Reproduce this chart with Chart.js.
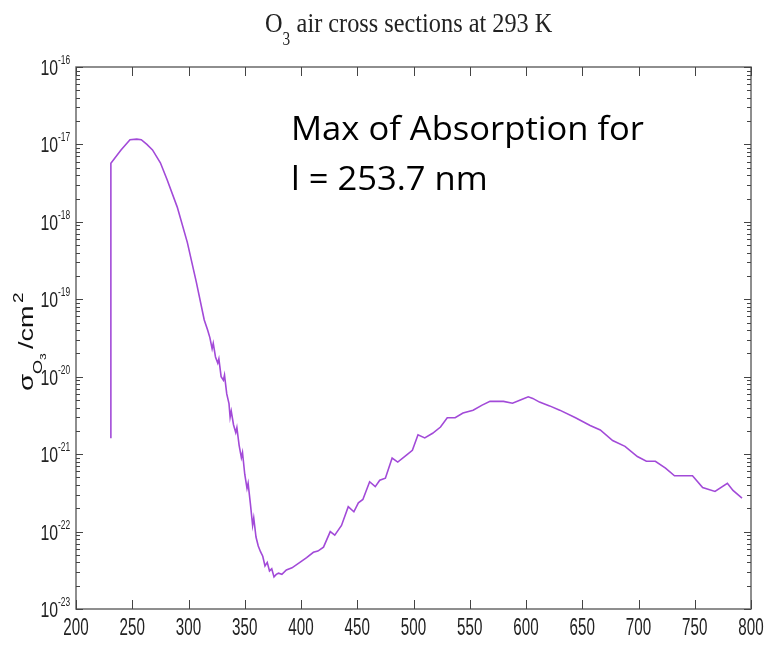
<!DOCTYPE html>
<html>
<head>
<meta charset="utf-8">
<title>O3 air cross sections at 293 K</title>
<script src="https://cdn.jsdelivr.net/npm/chart.js@4.4.1/dist/chart.umd.min.js"></script>
<style>
  html, body { margin: 0; padding: 0; background: #fff; }
  #wrap { width: 777px; height: 654px; }
</style>
</head>
<body>
<div id="wrap"><canvas id="o3Chart" width="777" height="654"></canvas></div>
<script>
// O3 absorption cross section (cm^2) vs wavelength (nm)
const wavelengths = [
  231, 231, 240, 248, 254, 258, 263, 268, 275, 281, 290, 299, 307, 314,
  317, 319, 321, 322, 324, 326, 327, 329, 331, 332, 334, 336, 337, 338, 340, 342,
  343, 345, 347, 348, 350, 352, 353, 355, 357, 358, 360, 362, 364, 366, 368,
  370, 372, 374, 376, 378, 380, 383, 387, 392, 399,
  405, 411, 415, 420, 426, 430, 436, 442, 447, 451, 455, 461, 466, 470, 475,
  481, 486, 494, 499, 504, 510, 517, 524, 530, 537, 544, 553, 561, 568, 580,
  588, 595, 602, 606, 612, 621, 630, 644, 657, 666, 677, 688, 699, 707, 715,
  724, 732, 748, 757, 768, 779, 784, 792
];
const crossSections = [
  1.6e-21, 5.7e-18, 8.5e-18, 1.15e-17, 1.17e-17, 1.15e-17, 1.0e-17, 8.5e-18, 5.8e-18, 3.5e-18, 1.55e-18, 5.4e-19, 1.65e-19, 5.4e-20,
  4.0e-20, 3.2e-20, 2.3e-20, 2.7e-20, 1.8e-20, 1.5e-20, 1.7e-20, 1.0e-20, 9.0e-21, 1.05e-20, 6.0e-21, 4.5e-21, 3.0e-21, 3.6e-21, 2.4e-21, 1.9e-21,
  2.2e-21, 1.3e-21, 9.0e-22, 1.05e-21, 5.5e-22, 3.6e-22, 4.2e-22, 2.3e-22, 1.2e-22, 1.5e-22, 8.5e-23, 6.5e-23, 5.5e-23, 4.8e-23, 3.6e-23,
  4.0e-23, 3.1e-23, 3.3e-23, 2.6e-23, 2.8e-23, 2.9e-23, 2.8e-23, 3.2e-23, 3.4e-23, 4.0e-23,
  4.6e-23, 5.4e-23, 5.6e-23, 6.3e-23, 1.0e-22, 9.0e-23, 1.2e-22, 2.1e-22, 1.8e-22, 2.35e-22, 2.6e-22, 4.4e-22, 3.8e-22, 4.6e-22, 4.9e-22,
  8.9e-22, 7.9e-22, 9.8e-22, 1.12e-21, 1.78e-21, 1.62e-21, 1.86e-21, 2.24e-21, 2.95e-21, 2.95e-21, 3.4e-21, 3.7e-21, 4.3e-21, 4.8e-21, 4.8e-21,
  4.55e-21, 5.0e-21, 5.5e-21, 5.25e-21, 4.7e-21, 4.2e-21, 3.7e-21, 2.95e-21, 2.35e-21, 2.05e-21, 1.5e-21, 1.26e-21, 9.3e-22, 8.1e-22, 8.1e-22,
  6.6e-22, 5.25e-22, 5.25e-22, 3.7e-22, 3.3e-22, 4.2e-22, 3.4e-22, 2.7e-22
];

// axis ticks
const xTickValues = [200, 250, 300, 350, 400, 450, 500, 550, 600, 650, 700, 750, 800];
const yDecades = [-23, -22, -21, -20, -19, -18, -17, -16];

const titleMain = 'O';
const titleSub = '3';
const titleRest = ' air cross sections at 293 K';
const noteLines = ['Max of Absorption for', 'l = 253.7 nm'];

const points = wavelengths.map((w, i) => ({ x: w, y: crossSections[i] }));

// draw text squeezed horizontally (the source image is compressed sideways)
function squeezed(ctx, text, x, y, font, sx, align){
  ctx.save();
  ctx.font = font;
  const w = ctx.measureText(text).width * sx;
  let x0 = x;
  if(align === 'center') x0 = x - w / 2;
  if(align === 'right') x0 = x - w;
  ctx.translate(x0, y);
  ctx.scale(sx, 1);
  ctx.textAlign = 'left';
  ctx.fillText(text, 0, 0);
  ctx.restore();
  return w;
}

const framePlugin = {
  id: 'frame',
  afterDatasetsDraw(chart){
    const ctx = chart.ctx;
    const a = chart.chartArea;
    const xs = chart.scales.x, ys = chart.scales.y;

    ctx.save();
    // box
    ctx.strokeStyle = '#6a6a6a';
    ctx.lineWidth = 1.5;
    ctx.strokeRect(a.left, a.top, a.right - a.left, a.bottom - a.top);

    // x ticks (inward, bottom and top)
    ctx.strokeStyle = '#444';
    ctx.lineWidth = 1;
    xTickValues.forEach(v => {
      const px = Math.round(xs.getPixelForValue(v)) + 0.5;
      ctx.beginPath();
      ctx.moveTo(px, a.bottom); ctx.lineTo(px, a.bottom - 9);
      ctx.moveTo(px, a.top); ctx.lineTo(px, a.top + 9);
      ctx.stroke();
    });

    // y ticks: decades and minor 2..9, both sides
    yDecades.forEach(d => {
      for(let m = 1; m <= 9; m++){
        if(d === -16 && m > 1) break;
        const py = Math.round(ys.getPixelForValue(m * Math.pow(10, d))) + 0.5;
        const len = m === 1 ? 7 : 4;
        ctx.beginPath();
        ctx.moveTo(a.left, py); ctx.lineTo(a.left + len, py);
        ctx.moveTo(a.right, py); ctx.lineTo(a.right - len, py);
        ctx.stroke();
      }
    });

    // x tick labels
    ctx.fillStyle = '#222';
    ctx.textBaseline = 'alphabetic';
    xTickValues.forEach(v => {
      squeezed(ctx, String(v), xs.getPixelForValue(v), a.bottom + 26, '23px "Liberation Sans", Arial, sans-serif', 0.66, 'center');
    });

    // y tick labels 10^n
    yDecades.forEach(d => {
      const py = ys.getPixelForValue(Math.pow(10, d));
      squeezed(ctx, '10', a.left - 18, py + 8, '22px "Liberation Sans", Arial, sans-serif', 0.72, 'right');
      squeezed(ctx, String(d), a.left - 18, py - 3, '12px "Liberation Sans", Arial, sans-serif', 0.7, 'left');
    });

    // y axis title: sigma_O3 / cm^2, rotated
    ctx.save();
    ctx.translate(33, 391);
    ctx.rotate(-Math.PI / 2);
    ctx.scale(1, 0.75);
    ctx.fillStyle = '#111';
    ctx.textAlign = 'left';
    ctx.font = '28px "Liberation Sans", Arial, sans-serif';
    ctx.fillText('\u03c3', 0, 0);
    ctx.font = '18px "Liberation Sans", Arial, sans-serif';
    ctx.fillText('O', 17, 12);
    ctx.font = '12px "Liberation Sans", Arial, sans-serif';
    ctx.fillText('3', 31, 17);
    ctx.font = '27px "Liberation Sans", Arial, sans-serif';
    ctx.fillText('/cm', 42, 0);
    ctx.font = '19px "Liberation Sans", Arial, sans-serif';
    ctx.fillText('2', 88, -13);
    ctx.restore();

    // title
    ctx.fillStyle = '#222';
    const tFont = '27px "Liberation Serif", "Times New Roman", serif';
    let tx = 265;
    tx += squeezed(ctx, titleMain, tx, 32, tFont, 0.9, 'left');
    squeezed(ctx, titleSub, tx, 45, '18px "Liberation Serif", "Times New Roman", serif', 0.85, 'left');
    tx += 8;
    squeezed(ctx, titleRest, tx, 32, tFont, 0.9, 'left');

    // annotation, stretched to the width it has in the slide
    ctx.fillStyle = '#000';
    const nFont = '32px "Open Sans", Lato, sans-serif';
    ctx.font = nFont;
    const nScale = 353 / ctx.measureText(noteLines[0]).width;
    squeezed(ctx, noteLines[0], 291, 140, nFont, nScale, 'left');
    squeezed(ctx, noteLines[1], 291, 190, nFont, nScale, 'left');
    ctx.restore();
  }
};

new Chart(document.getElementById('o3Chart').getContext('2d'), {
  type: 'line',
  data: {
    datasets: [{
      label: 'O3 cross section',
      data: points,
      borderColor: '#a24ad8',
      borderWidth: 1.6,
      pointRadius: 0,
      tension: 0,
      fill: false
    }]
  },
  options: {
    responsive: false,
    animation: false,
    layout: { padding: { left: 76, top: 67, right: 26, bottom: 45 } },
    plugins: { legend: { display: false }, tooltip: { enabled: false }, title: { display: false } },
    scales: {
      x: { type: 'linear', min: 200, max: 800, display: false },
      y: { type: 'logarithmic', min: 1e-23, max: 1e-16, display: false }
    }
  },
  plugins: [framePlugin]
});
</script>
</body>
</html>
